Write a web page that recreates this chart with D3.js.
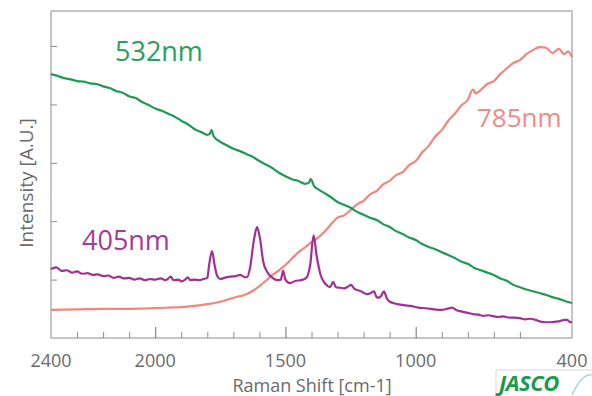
<!DOCTYPE html>
<html>
<head>
<meta charset="utf-8">
<script src="https://cdn.jsdelivr.net/npm/d3@7"></script>
<style>
  body { margin: 0; background: #fff; }
  svg text { font-family: "Open Sans", "Noto Sans", sans-serif; }
</style>
</head>
<body>
<svg id="chart" width="592" height="396"></svg>
<script>
// Raman shift (cm-1) and intensity (A.U.)
const shift532 = [2400, 2375, 2350, 2325, 2300, 2275, 2250, 2225, 2200, 2175, 2150, 2125, 2100, 2075, 2050, 2025,
  2000, 1975, 1950, 1925, 1900, 1875, 1850, 1825, 1800, 1790, 1784, 1775, 1750, 1725, 1700, 1675, 1650, 1625,
  1600, 1575, 1550, 1525, 1500, 1475, 1450, 1425, 1410, 1403, 1390, 1375, 1350, 1325, 1300, 1275, 1250, 1225,
  1200, 1175, 1150, 1125, 1100, 1075, 1050, 1025, 1000, 975, 950, 925, 900, 875, 850, 825, 800, 775, 750, 725,
  700, 675, 650, 625, 600, 575, 550, 525, 500, 475, 450, 425, 400];
const int532 = [4.52, 4.49, 4.45, 4.43, 4.40, 4.39, 4.36, 4.35, 4.31, 4.28, 4.23, 4.20, 4.14, 4.11, 4.04, 3.99,
  3.93, 3.89, 3.84, 3.79, 3.72, 3.66, 3.58, 3.53, 3.48, 3.50, 3.56, 3.45, 3.36, 3.30, 3.24, 3.20, 3.15, 3.10,
  3.03, 2.97, 2.91, 2.83, 2.77, 2.72, 2.69, 2.64, 2.66, 2.72, 2.60, 2.55, 2.48, 2.41, 2.33, 2.28, 2.23, 2.16,
  2.11, 2.06, 2.02, 1.95, 1.90, 1.83, 1.78, 1.72, 1.68, 1.61, 1.56, 1.52, 1.47, 1.42, 1.37, 1.31, 1.27, 1.20, 1.16, 1.12,
  1.08, 1.02, 0.98, 0.91, 0.87, 0.83, 0.80, 0.77, 0.74, 0.70, 0.67, 0.63, 0.60];

const shift785 = [2400, 2300, 2200, 2100, 2000, 1950, 1900, 1850, 1800, 1750, 1700, 1650, 1625, 1600, 1575, 1550,
  1525, 1500, 1475, 1450, 1425, 1400, 1375, 1350, 1325, 1300, 1275, 1250, 1225, 1200, 1175, 1150, 1125, 1100,
  1075, 1050, 1025, 1000, 975, 950, 925, 900, 875, 850, 825, 800, 780, 770, 750, 725, 700, 675, 650, 625, 600,
  575, 550, 525, 500, 475, 450, 430, 415, 400];
const int785 = [0.48, 0.49, 0.50, 0.50, 0.51, 0.52, 0.53, 0.55, 0.58, 0.62, 0.69, 0.75, 0.81, 0.89, 0.98, 1.08,
  1.16, 1.25, 1.36, 1.47, 1.55, 1.64, 1.72, 1.82, 1.95, 2.06, 2.10, 2.19, 2.29, 2.35, 2.46, 2.52, 2.63, 2.69,
  2.79, 2.84, 2.96, 3.03, 3.18, 3.29, 3.45, 3.56, 3.72, 3.84, 3.98, 4.08, 4.26, 4.19, 4.25, 4.35, 4.40, 4.52, 4.62, 4.71, 4.76,
  4.86, 4.93, 4.98, 4.97, 4.88, 4.95, 4.86, 4.91, 4.81];

const shift405 = [2400, 2380, 2360, 2340, 2320, 2300, 2280, 2260, 2240, 2220, 2200, 2180, 2160, 2140, 2120, 2100,
  2080, 2060, 2040, 2020, 2000, 1980, 1960, 1940, 1930, 1910, 1900, 1885, 1875, 1865, 1850, 1830, 1815, 1800,
  1793, 1782, 1772, 1762, 1750, 1735, 1713, 1690, 1674, 1660, 1648, 1636, 1621, 1609, 1598, 1585, 1570, 1550,
  1530, 1518, 1509, 1500, 1483, 1460, 1440, 1420, 1405, 1392, 1380, 1365, 1345, 1329, 1317, 1306, 1290, 1275,
  1260, 1248, 1235, 1210, 1187, 1172, 1160, 1150, 1140, 1133, 1122, 1110, 1099, 1070, 1040, 1020, 990, 960, 930,
  900, 880, 860, 845, 830, 800, 780, 760, 740, 720, 700, 680, 665, 640, 620, 600, 580, 560, 540, 520, 500, 484,
  460, 446, 430, 419, 410, 400];
const int405 = [1.18, 1.21, 1.15, 1.16, 1.12, 1.14, 1.10, 1.11, 1.08, 1.09, 1.06, 1.07, 1.03, 1.05, 1.02, 1.03,
  1.00, 1.02, 0.99, 1.01, 1.00, 1.02, 0.99, 1.05, 0.99, 1.00, 0.97, 1.00, 1.04, 0.99, 1.00, 0.99, 1.01, 1.03,
  1.25, 1.49, 1.25, 1.06, 1.01, 1.03, 1.05, 1.06, 1.08, 1.05, 1.04, 1.20, 1.68, 1.90, 1.71, 1.30, 1.13, 1.03,
  0.99, 1.00, 1.15, 1.00, 0.94, 0.98, 0.99, 1.03, 1.25, 1.76, 1.40, 1.08, 0.92, 0.87, 0.96, 0.87, 0.86, 0.85,
  0.88, 0.91, 0.84, 0.80, 0.75, 0.77, 0.80, 0.70, 0.69, 0.72, 0.80, 0.67, 0.62, 0.58, 0.56, 0.55, 0.52, 0.51, 0.49,
  0.48, 0.50, 0.52, 0.48, 0.46, 0.43, 0.41, 0.40, 0.38, 0.39, 0.37, 0.36, 0.37, 0.35, 0.35, 0.34, 0.32, 0.33, 0.31, 0.28, 0.27, 0.27,
  0.28, 0.29, 0.31, 0.31, 0.28, 0.27];

const xTickLabels = [2400, 2000, 1500, 1000, 400];
const xMinorTicks = d3.range(2300, 400, -100);
const yTicks = [1, 2, 3, 4, 5];

const series = [
  { name: '785nm', shift: shift785, value: int785, color: '#f4857e', label: '#f08a84', lx: 477, ly: 127, size: 26 },
  { name: '532nm', shift: shift532, value: int532, color: '#1f9a55', label: '#25a25c', lx: 115, ly: 61, size: 27 },
  { name: '405nm', shift: shift405, value: int405, color: '#a32f93', label: '#a43a98', lx: 82, ly: 250, size: 27 }
];

const margin = { top: 11, right: 20, bottom: 58, left: 51 };
const width = 592 - margin.left - margin.right;
const height = 396 - margin.top - margin.bottom;

const svg = d3.select('#chart');
const g = svg.append('g').attr('transform', `translate(${margin.left},${margin.top})`);

const x = d3.scaleLinear().domain([2400, 400]).range([0, width]);
const y = d3.scaleLinear().domain([0, 5.6]).range([height, 0]);

// frame
g.append('rect')
  .attr('width', width)
  .attr('height', height)
  .attr('fill', 'none')
  .attr('stroke', '#8c8c8c')
  .attr('stroke-width', 1);

// y ticks (inside, no labels)
g.append('g')
  .call(d3.axisRight(y).tickValues(yTicks).tickSize(6).tickFormat(''))
  .call(a => a.select('.domain').remove())
  .selectAll('line').attr('stroke', '#8c8c8c');

// x minor ticks
g.append('g')
  .attr('transform', `translate(0,${height})`)
  .call(d3.axisTop(x).tickValues(xMinorTicks.filter(v => v % 500 !== 0)).tickSize(6).tickFormat(''))
  .call(a => a.select('.domain').remove())
  .selectAll('line').attr('stroke', '#8c8c8c');

// x major ticks
g.append('g')
  .attr('transform', `translate(0,${height})`)
  .call(d3.axisTop(x).tickValues([2000, 1500, 1000]).tickSize(11).tickFormat(''))
  .call(a => a.select('.domain').remove())
  .selectAll('line').attr('stroke', '#6f6f6f');

// x tick labels
g.append('g')
  .selectAll('text')
  .data(xTickLabels)
  .enter()
  .append('text')
  .attr('x', d => x(d))
  .attr('y', height + 29)
  .attr('text-anchor', 'middle')
  .attr('font-size', '18px')
  .attr('fill', '#6a6a6a')
  .text(d => d);

// axis titles
svg.append('text')
  .attr('x', 312)
  .attr('y', 392)
  .attr('text-anchor', 'middle')
  .attr('font-size', '18px')
  .attr('fill', '#6a6a6a')
  .text('Raman Shift [cm-1]');

svg.append('text')
  .attr('transform', 'translate(33,183) rotate(-90)')
  .attr('text-anchor', 'middle')
  .attr('font-size', '19px')
  .attr('fill', '#6a6a6a')
  .text('Intensity [A.U.]');

const line = d3.line()
  .x(d => x(d[0]))
  .y(d => y(d[1]))
  .curve(d3.curveMonotoneX);

series.forEach(s => {
  const pts = s.shift.map((w, i) => [w, s.value[i]]);
  g.append('path')
    .datum(pts)
    .attr('fill', 'none')
    .attr('stroke', s.color)
    .attr('stroke-width', 2.2)
    .attr('stroke-linejoin', 'round')
    .attr('d', line);

  svg.append('text')
    .attr('x', s.lx)
    .attr('y', s.ly)
    .attr('font-size', s.size + 'px')
    .attr('fill', s.label)
    .text(s.name);
});

// JASCO logo
const logo = svg.append('g').attr('transform', 'translate(496,370)');
logo.append('path')
  .attr('d', 'M0,26 L0,0 L96,0')
  .attr('fill', 'none')
  .attr('stroke', '#d8d8d8')
  .attr('stroke-width', 1);
logo.append('text')
  .attr('x', 3)
  .attr('y', 21)
  .attr('font-size', '22px')
  .attr('font-weight', 'bold')
  .attr('font-style', 'italic')
  .attr('letter-spacing', '-0.5px')
  .attr('fill', '#1c9a4e')
  .text('JASCO');
logo.append('path')
  .attr('d', 'M76,25 Q86,3 96,5')
  .attr('fill', 'none')
  .attr('stroke', '#9cc8e8')
  .attr('stroke-width', 1.2);
</script>
</body>
</html>
